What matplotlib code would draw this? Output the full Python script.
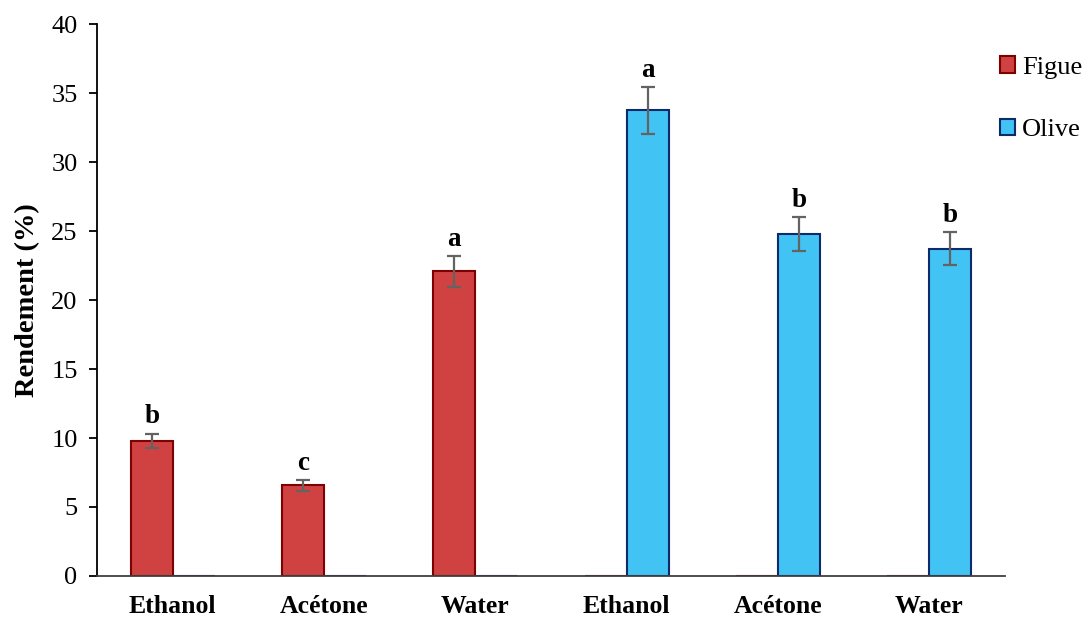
import numpy as np
import matplotlib
matplotlib.use('Agg')
import matplotlib.pyplot as plt

plt.rcParams['font.family'] = ['Liberation Serif', 'DejaVu Serif']

# Data
categories = ['Ethanol', 'Acétone', 'Water', 'Ethanol', 'Acétone', 'Water']
figue = [9.8, 6.56, 22.07, 0, 0, 0]
figue_err = [0.52, 0.38, 1.1, 0, 0, 0]
figue_letters = ['b', 'c', 'a', '', '', '']
olive = [0, 0, 0, 33.75, 24.78, 23.73]
olive_err = [0, 0, 0, 1.7, 1.25, 1.2]
olive_letters = ['', '', '', 'a', 'b', 'b']

x = np.arange(len(categories))
w = 0.277

fig = plt.figure(figsize=(10.9, 6.18), dpi=100)
ax = fig.add_axes([0.089, 0.068, 0.833, 0.893])

b1 = ax.bar(x, figue, width=-w, align='edge', color='#D04242', edgecolor='#7F0000',
            linewidth=1.5, label='Figue', zorder=2)
b2 = ax.bar(x, olive, width=w, align='edge', color='#41C3F3', edgecolor='#0D2B6B',
            linewidth=1.5, label='Olive', zorder=2)

for vals, errs, letters, off in [(figue, figue_err, figue_letters, -w / 2),
                                 (olive, olive_err, olive_letters, w / 2)]:
    for i in range(len(vals)):
        if vals[i] <= 0:
            continue
        ax.errorbar(x[i] + off, vals[i], yerr=errs[i], fmt='none', ecolor='#636363',
                    elinewidth=1.6, capsize=5, capthick=1.6, zorder=3)
        ax.annotate(letters[i], (x[i] + off, vals[i] + errs[i]), xytext=(0, 3),
                    textcoords='offset points', ha='center', va='bottom',
                    fontsize=19.5, fontweight='bold')

ax.set_xlim(-0.5, len(categories) - 0.5)
ax.set_ylim(0, 40)
ax.set_yticks(np.arange(0, 41, 5))
ax.set_xticks(x)
ax.set_xticklabels(categories, fontsize=18.5, fontweight='bold')
ax.tick_params(axis='x', length=0, pad=13.5)
ax.tick_params(axis='y', labelsize=19, length=6, width=1.3, pad=8, direction='out')
ax.set_ylabel('Rendement (%)', fontsize=20.5, fontweight='bold', labelpad=8)

for s in ['top', 'right']:
    ax.spines[s].set_visible(False)
ax.spines['left'].set_linewidth(1.3)
ax.spines['bottom'].set_linewidth(1.3)
ax.spines['bottom'].set_color('#404040')

fig.legend(handles=[b1, b2], loc='upper left', bbox_to_anchor=(0.905, 0.93),
           frameon=False, fontsize=19, handlelength=0.6, handleheight=0.6,
           handletextpad=0.25, labelspacing=1.5, borderpad=0)

fig.savefig('out.png', dpi=100)
